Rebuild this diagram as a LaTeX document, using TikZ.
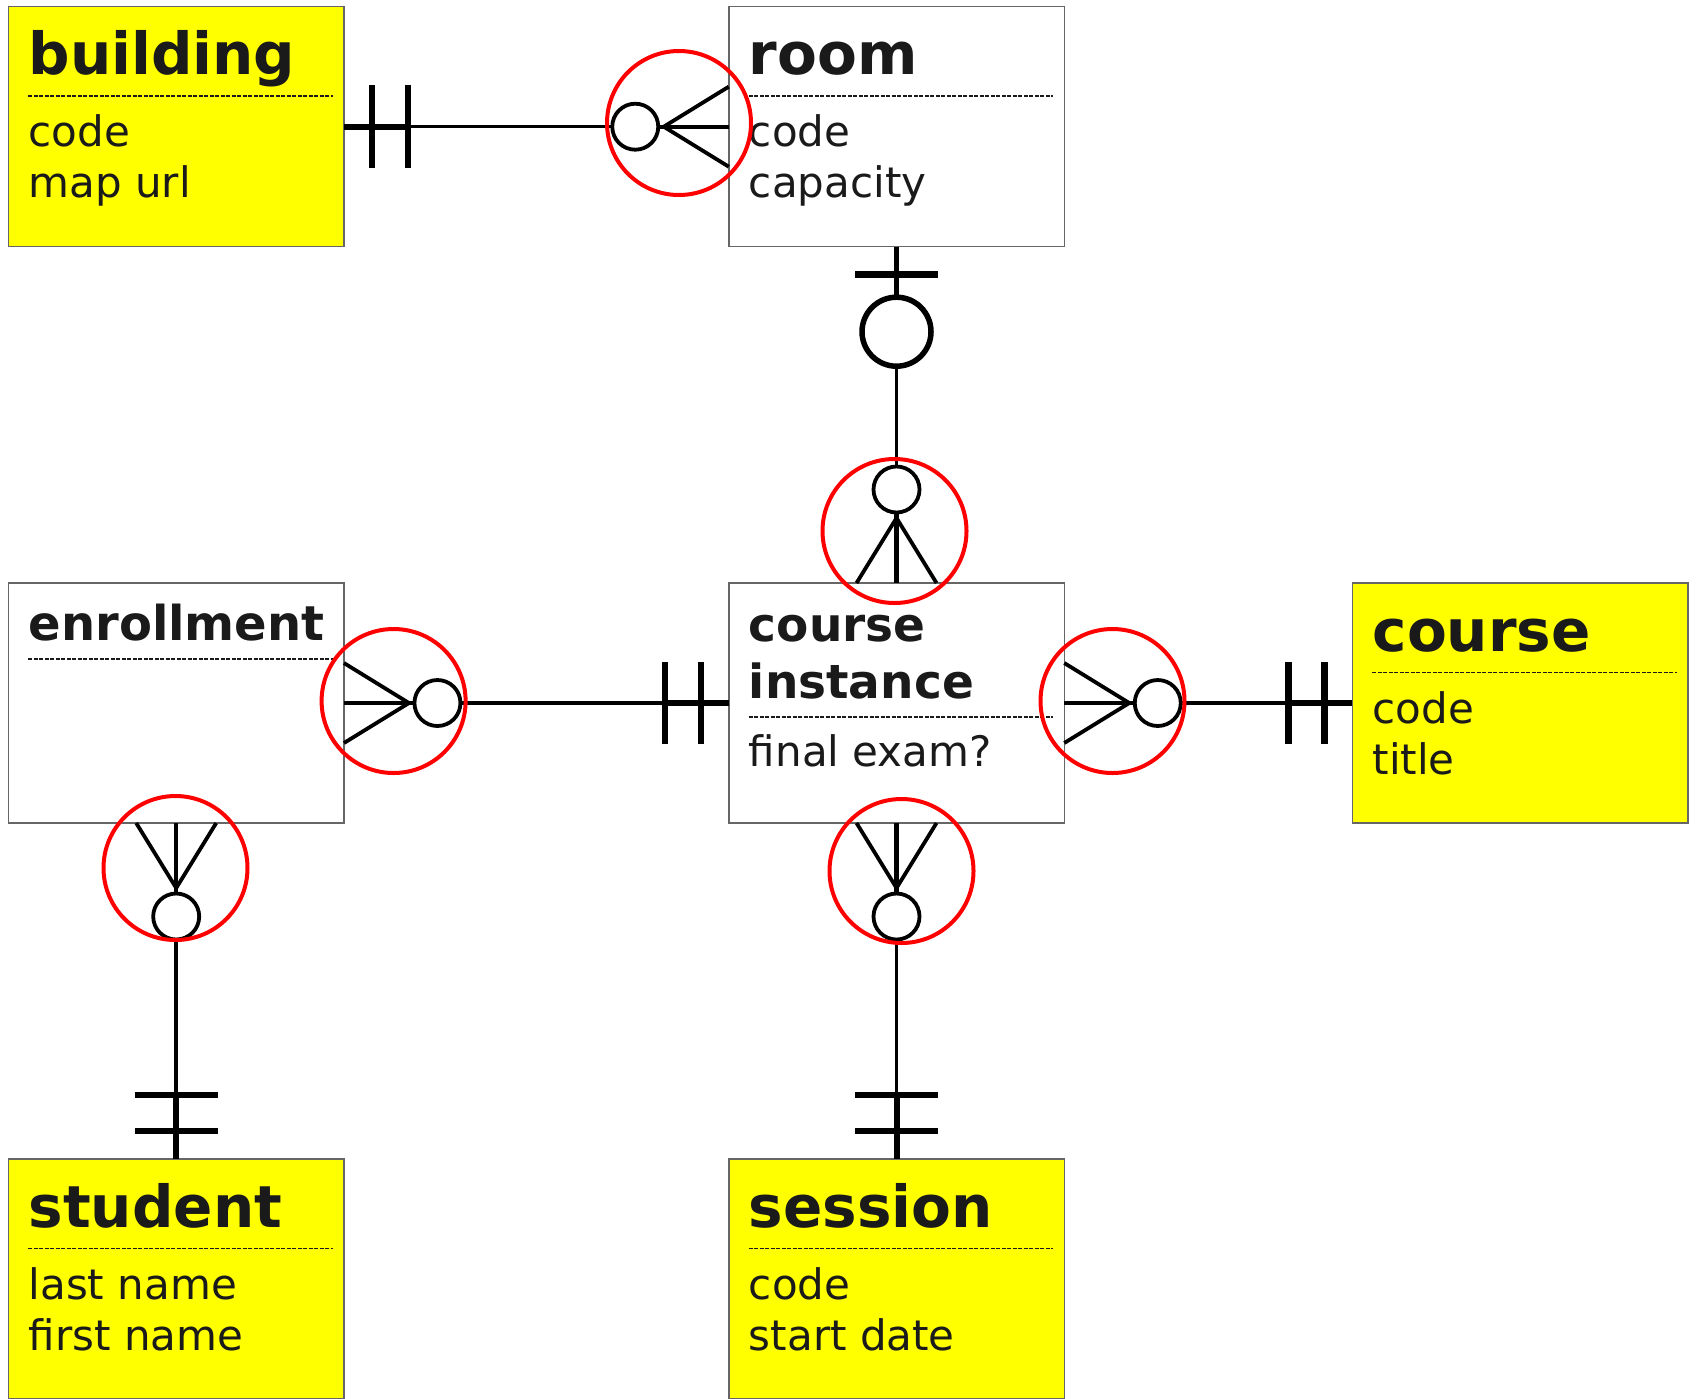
\documentclass[tikz,border=0pt]{standalone}
\usepackage{fontspec}
\setmainfont{DejaVu Sans}
\usetikzlibrary{calc}
\definecolor{txt}{HTML}{1A1A1A}
\definecolor{bord}{HTML}{666666}
\definecolor{ylw}{HTML}{FFFF00}
\definecolor{redmark}{HTML}{FF0000}
\tikzset{
  onemand/.pic={
    \draw[black, line width=6pt] (0,0) -- (66,0);
    \draw[black, line width=6.5pt] (28,-41.3) -- (28,41.3);
    \draw[black, line width=6.5pt] (64,-41.3) -- (64,41.3);
  },
  zeromany/.pic={
    \draw[black, line width=3.8pt, line join=miter] (0,-40) -- (65,0) -- (0,40);
    \draw[black, line width=4.2pt] (0,0) -- (71,0);
    \draw[black, line width=3.8pt, fill=white] (93.5,0) circle[radius=23];
  },
  zeroone/.pic={
    \draw[black, line width=5.5pt] (0,0) -- (52,0);
    \draw[black, line width=7pt] (28,-41.3) -- (28,41.3);
    \draw[black, line width=5.5pt, fill=white] (85,0) circle[radius=34.5];
  }
}
\begin{document}
\begin{tikzpicture}[x=1pt,y=-1pt,
  entity/.style={rectangle, draw=bord, line width=1.5pt, minimum width=335.5pt,
    minimum height=240pt, inner sep=0pt, outer sep=0pt, fill=white},
  strong/.style={entity, fill=ylw},
  bigtitle/.style={anchor=base west, inner sep=0pt, text=txt,
    font=\bfseries\fontsize{58}{70}\selectfont},
  smalltitle/.style={anchor=base west, inner sep=0pt, text=txt,
    font=\bfseries\fontsize{47}{56}\selectfont},
  attr/.style={anchor=base west, inner sep=0pt, text=txt,
    font=\fontsize{42}{50}\selectfont},
  sepline/.style={draw=txt, line width=1.6pt, dash pattern=on 4pt off 1.5pt},
  link/.style={draw=black, line width=3.5pt},
  ring/.style={circle, draw=redmark, line width=4pt, minimum size=144pt,
    inner sep=0pt, outer sep=0pt}
]
\fill[white] (0,0) rectangle (1696,1398);
\useasboundingbox (0,0) rectangle (1696,1398);

% entities
\node[strong] (building) at (176.2,126.7) {};
\node[entity] (room) at (896.5,126.7) {};
\node[entity] (enroll) at (176.2,703) {};
\node[entity] (ci) at (896.5,703) {};
\node[strong] (course) at (1520.2,703) {};
\node[strong] (student) at (176.2,1279) {};
\node[strong] (session) at (896.5,1279) {};

% building
\node[bigtitle] (building-t) at ($(building.north west)+(20,68)$) {building};
\draw[sepline] ($(building.north west)+(20,89.5)$) -- ($(building.north east)+(-11,89.5)$);
\node[attr] (building-a1) at ($(building.north west)+(20,140)$) {code};
\node[attr] (building-a2) at ($(building.north west)+(20,191)$) {map url};

% room
\node[bigtitle] (room-t) at ($(room.north west)+(20,68)$) {room};
\draw[sepline] ($(room.north west)+(20,89.5)$) -- ($(room.north east)+(-11,89.5)$);
\node[attr] (room-a1) at ($(room.north west)+(20,140)$) {code};
\node[attr] (room-a2) at ($(room.north west)+(20,191)$) {capacity};

% enrollment
\node[smalltitle, font=\bfseries\fontsize{48}{56}\selectfont] (enroll-t) at ($(enroll.north west)+(20,57.4)$) {enrollment};
\draw[sepline] ($(enroll.north west)+(20,76)$) -- ($(enroll.north east)+(-11,76)$);

% course instance
\node[smalltitle] (ci-t1) at ($(ci.north west)+(20,58.4)$) {course};
\node[smalltitle] (ci-t2) at ($(ci.north west)+(20,115)$) {instance};
\draw[sepline] ($(ci.north west)+(20,134)$) -- ($(ci.north east)+(-11,134)$);
\node[attr] (ci-a1) at ($(ci.north west)+(20,183.4)$) {final exam?};

% course
\node[bigtitle] (course-t) at ($(course.north west)+(20,68)$) {course};
\draw[sepline] ($(course.north west)+(20,89.5)$) -- ($(course.north east)+(-11,89.5)$);
\node[attr] (course-a1) at ($(course.north west)+(20,140)$) {code};
\node[attr] (course-a2) at ($(course.north west)+(20,191)$) {title};

% student
\node[bigtitle] (student-t) at ($(student.north west)+(20,68)$) {student};
\draw[sepline] ($(student.north west)+(20,89.5)$) -- ($(student.north east)+(-11,89.5)$);
\node[attr] (student-a1) at ($(student.north west)+(20,140)$) {last name};
\node[attr] (student-a2) at ($(student.north west)+(20,191)$) {first name};

% session
\node[bigtitle] (session-t) at ($(session.north west)+(20,68)$) {session};
\draw[sepline] ($(session.north west)+(20,89.5)$) -- ($(session.north east)+(-11,89.5)$);
\node[attr] (session-a1) at ($(session.north west)+(20,140)$) {code};
\node[attr] (session-a2) at ($(session.north west)+(20,191)$) {start date};

% connectors
\draw[link] (building.east) -- (room.west);
\draw[link] (room.south) -- (ci.north);
\draw[link] (enroll.east) -- (ci.west);
\draw[link] (ci.east) -- (course.west);
\draw[link] (enroll.south) -- (student.north);
\draw[link] (ci.south) -- (session.north);

% cardinality marks
\path (building.east) pic{onemand};
\path (room.west) pic[rotate=180]{zeromany};
\path (room.south) pic[rotate=-90]{zeroone};
\path (ci.north) pic[rotate=90]{zeromany};
\path (enroll.east) pic{zeromany};
\path (ci.west) pic[rotate=180]{onemand};
\path (ci.east) pic{zeromany};
\path (course.west) pic[rotate=180]{onemand};
\path (enroll.south) pic[rotate=-90]{zeromany};
\path (student.north) pic[rotate=90]{onemand};
\path (ci.south) pic[rotate=-90]{zeromany};
\path (session.north) pic[rotate=90]{onemand};

% red highlight rings
\node[ring] (r1) at (679,123) {};
\node[ring] (r2) at (894.5,531) {};
\node[ring] (r3) at (393.6,701) {};
\node[ring] (r4) at (1112.5,701) {};
\node[ring] (r5) at (175.5,868) {};
\node[ring] (r6) at (901.5,871) {};
\end{tikzpicture}
\end{document}
